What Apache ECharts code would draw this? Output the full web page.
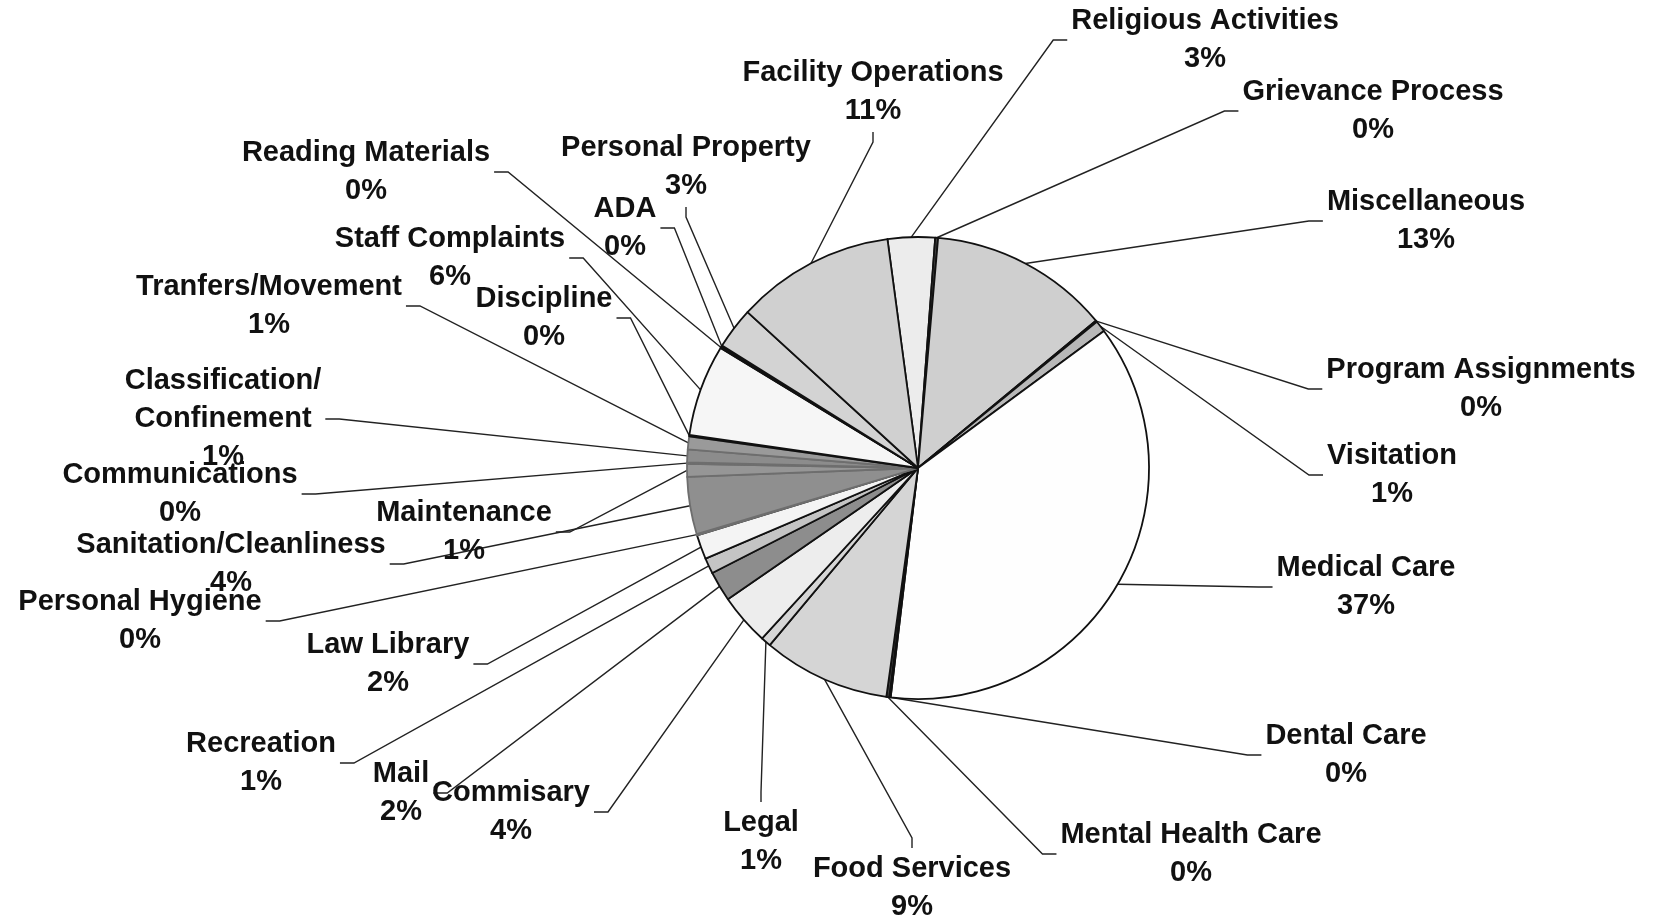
<!DOCTYPE html>
<html>
<head>
<meta charset="utf-8">
<script src="https://cdn.jsdelivr.net/npm/echarts@6/dist/echarts.min.js"></script>
<style>
  html, body { margin: 0; padding: 0; background: #fff; }
  #chart { width: 1654px; height: 922px; }
</style>
</head>
<body>
<div id="chart"></div>
<script>
// grievance categories, clockwise from the top of the pie
const categories = [
  'Religious Activities', 'Grievance Process', 'Miscellaneous', 'Program Assignments',
  'Visitation', 'Medical Care', 'Dental Care', 'Mental Health Care', 'Food Services',
  'Legal', 'Commisary', 'Mail', 'Recreation', 'Law Library', 'Personal Hygiene',
  'Sanitation/Cleanliness', 'Maintenance', 'Communications', 'Classification/\nConfinement',
  'Tranfers/Movement', 'Discipline', 'Staff Complaints', 'Reading Materials', 'ADA',
  'Personal Property', 'Facility Operations'
];
// share of all grievances, percent
const shares = [
  3.3, 0.2, 12.6, 0.1,
  0.8, 37.0, 0.1, 0.2, 8.9,
  0.7, 3.6, 2.1, 1.1, 1.7, 0.1,
  4.0, 0.9, 0.1, 0.9,
  0.9, 0.1, 6.4, 0.1, 0.1,
  2.9, 11.1
];

// styling / placement (not data)
const sliceColors = [
  '#ececec', '#444444', '#cfcfcf', '#777777',
  '#b8b8b8', '#fefefe', '#333333', '#444444', '#d5d5d5',
  '#d6d6d6', '#ededed', '#8d8d8d', '#c4c4c4', '#f4f4f4', '#a5a5a5',
  '#8f8f8f', '#969696', '#7a7a7a', '#8c8c8c',
  '#9a9a9a', '#333333', '#f6f6f6', '#555555', '#555555',
  '#d3d3d3', '#d0d0d0'
];
// soft edges inside the dark band on the left, black elsewhere
const sliceEdges = sliceColors.map((c, i) => (i >= 14 && i <= 19 ? '#6e6e6e' : '#111111'));
const labelSpots = [
  [1205, 40], [1373, 111], [1426, 221], [1481, 389],
  [1392, 475], [1366, 587], [1346, 755], [1191, 854], [912, 888],
  [761, 842], [511, 812], [401, 793], [261, 763], [388, 664], [140, 621],
  [231, 564], [464, 532], [180, 494], [223, 419],
  [269, 306], [544, 318], [450, 258], [366, 172], [625, 228],
  [686, 167], [873, 92]
];
const pieCenter = [918, 468];
const pieRadius = 231;
const startFromTop = -7.6; // degrees clockwise from 12 o'clock

const total = shares.reduce((s, v) => s + v, 0);

// outer-edge point at the middle of slice i
function edgePoint(i) {
  let before = 0;
  for (let k = 0; k < i; k++) before += shares[k];
  const a = (startFromTop + (before + shares[i] / 2) / total * 360) * Math.PI / 180;
  return [pieCenter[0] + pieRadius * Math.sin(a), pieCenter[1] - pieRadius * Math.cos(a)];
}

function placeLabel(p) {
  const i = p.dataIndex;
  const [cx, cy] = labelSpots[i];
  const w = p.labelRect.width;
  const h = p.labelRect.height;
  const start = edgePoint(i);
  let end, elbow;
  if (Math.abs(start[0] - cx) > w / 2 + 4) {
    if (start[0] > cx) {
      end = [cx + w / 2 + 4, cy];
      elbow = [end[0] + 14, cy];
    } else {
      end = [cx - w / 2 - 4, cy];
      elbow = [end[0] - 14, cy];
    }
  } else if (start[1] > cy) {
    end = [cx, cy + h / 2 + 2];
    elbow = [cx, end[1] + 10];
  } else {
    end = [cx, cy - h / 2 - 2];
    elbow = [cx, end[1] - 10];
  }
  return {
    x: cx,
    y: cy,
    align: 'center',
    verticalAlign: 'middle',
    labelLinePoints: [start, elbow, end]
  };
}

const chart = echarts.init(document.getElementById('chart'));
chart.setOption({
  backgroundColor: '#ffffff',
  animation: false,
  series: [
    {
      type: 'pie',
      center: pieCenter,
      radius: pieRadius,
      startAngle: 90 - startFromTop,
      clockwise: true,
      avoidLabelOverlap: false,
      minAngle: 0,
      label: {
        show: true,
        position: 'outside',
        color: '#111',
        fontFamily: '"Liberation Sans", Arial, sans-serif',
        fontWeight: 'bold',
        fontSize: 29,
        lineHeight: 38,
        align: 'center',
        formatter: (p) => p.name + '\n' + Math.round(p.value / total * 100) + '%'
      },
      labelLine: {
        show: true,
        length: 10,
        length2: 10,
        lineStyle: { color: '#222', width: 1.4 }
      },
      labelLayout: placeLabel,
      emphasis: { disabled: true },
      data: categories.map((name, i) => ({
        name: name,
        value: shares[i],
        itemStyle: { color: sliceColors[i], borderColor: sliceEdges[i], borderWidth: 1.8 }
      }))
    }
  ]
});
</script>
</body>
</html>
